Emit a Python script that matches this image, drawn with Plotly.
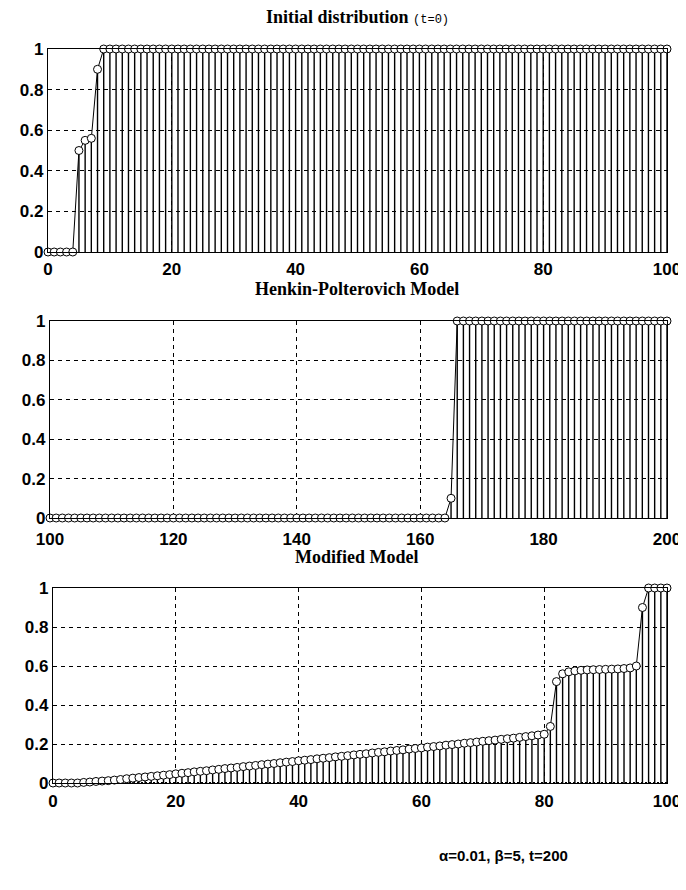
import plotly.graph_objects as go

# ---------------- data ----------------
x1 = list(range(0, 101))
y1 = [0, 0, 0, 0, 0, 0.5, 0.55, 0.56, 0.9] + [1] * 92

x2 = list(range(100, 201))
y2 = [0] * 65 + [0.1] + [1] * 35

x3 = list(range(0, 101))
y3 = [0, 0, 0, 0, 0, 0.003, 0.005, 0.008, 0.01, 0.012,
      0.015, 0.018, 0.022, 0.025, 0.028, 0.031, 0.034, 0.037, 0.04, 0.043,
      0.047, 0.05, 0.053, 0.057, 0.06, 0.063, 0.067, 0.07, 0.074, 0.077,
      0.08, 0.084, 0.087, 0.09, 0.094, 0.097, 0.1, 0.104, 0.107, 0.11,
      0.114, 0.117, 0.12, 0.124, 0.127, 0.13, 0.134, 0.137, 0.14, 0.144,
      0.147, 0.15, 0.154, 0.157, 0.16, 0.164, 0.167, 0.17, 0.174, 0.177,
      0.18, 0.184, 0.187, 0.19, 0.194, 0.197, 0.2, 0.204, 0.207, 0.21,
      0.214, 0.217, 0.22, 0.224, 0.227, 0.23, 0.234, 0.238, 0.242, 0.246,
      0.25, 0.29, 0.52, 0.56, 0.57, 0.575, 0.578, 0.58, 0.581, 0.582,
      0.583, 0.584, 0.585, 0.587, 0.59, 0.6, 0.9, 1, 1, 1, 1]

titles = ["Initial distribution", "Henkin-Polterovich Model", "Modified Model"]
subtitle1 = "(t=0)"
xticks1 = [0, 20, 40, 60, 80, 100]
xticks2 = [100, 120, 140, 160, 180, 200]
yticks = [0, 0.2, 0.4, 0.6, 0.8, 1]
ytick_text = ["0", "0.2", "0.4", "0.6", "0.8", "1"]
footnote = "α=0.01, β=5, t=200"

# ---------------- layout geometry ----------------
# page body has an 8px margin; work in page pixels and offset
OFF = 8
W, H = 686 - OFF, 890 - OFF


def px_x(v):
    return (v - OFF) / W


def px_y(v):
    return 1 - (v - OFF) / H


panels = [
    dict(x=x1, y=y1, xd=(48, 667), yd=(49, 252), xt=xticks1, xr=(0, 100), so=1),
    dict(x=x2, y=y2, xd=(50, 667), yd=(321, 518), xt=xticks2, xr=(100, 200), so=5),
    dict(x=x3, y=y3, xd=(53, 667), yd=(588, 783), xt=xticks1, xr=(0, 100), so=2),
]

fig = go.Figure()
tickfont = dict(family="Liberation Sans", size=17, color="black", weight="bold")

for i, p in enumerate(panels):
    n = i + 1
    xa = "x" if n == 1 else f"x{n}"
    ya = "y" if n == 1 else f"y{n}"
    # stems
    sx, sy = [], []
    for xv, yv in zip(p["x"], p["y"]):
        sx += [xv, xv, None]
        sy += [0, yv, None]
    fig.add_trace(go.Scatter(x=sx, y=sy, mode="lines", xaxis=xa, yaxis=ya,
                             line=dict(color="black", width=1.4),
                             hoverinfo="skip", showlegend=False, cliponaxis=False))
    if n == 3:
        fig.add_trace(go.Scatter(x=[p["xr"][0], p["xr"][1]], y=[0.0, 0.0], mode="lines",
                                 xaxis=xa, yaxis=ya,
                                 line=dict(color="black", width=2, dash="2px,2px"),
                                 showlegend=False, hoverinfo="skip", cliponaxis=False))
    # connecting line + open circles
    fig.add_trace(go.Scatter(x=p["x"], y=p["y"], mode="lines+markers", xaxis=xa, yaxis=ya,
                             line=dict(color="black", width=1),
                             marker=dict(symbol="circle", size=8, color="white",
                                         line=dict(color="black", width=1)),
                             showlegend=False, cliponaxis=False))
    common = dict(showgrid=True, gridcolor="black", gridwidth=1, griddash="4px,4px",
                  zeroline=False, showline=True, linecolor="black", linewidth=1.2,
                  mirror=True, ticks="", tickfont=tickfont, fixedrange=True,
                  automargin=False)
    fig.layout[("xaxis" if n == 1 else f"xaxis{n}")] = dict(
        domain=[px_x(p["xd"][0]), px_x(p["xd"][1])], range=list(p["xr"]),
        tickvals=p["xt"], ticktext=[str(v) for v in p["xt"]],
        anchor=ya, ticklabelstandoff=p["so"], **common)
    fig.layout[("yaxis" if n == 1 else f"yaxis{n}")] = dict(
        domain=[px_y(p["yd"][1]), px_y(p["yd"][0])], range=[0, 1],
        tickvals=yticks, ticktext=ytick_text, anchor=xa, **common)

annotations = [
    dict(text=f"<b>{titles[0]}</b> <span style='font-family:Liberation Mono;font-size:12px;font-weight:normal'>{subtitle1}</span>",
         x=px_x(357), y=px_y(17)),
    dict(text=f"<b>{titles[1]}</b>", x=px_x(357), y=px_y(289)),
    dict(text=f"<b>{titles[2]}</b>", x=px_x(357), y=px_y(557)),
]
for a in annotations:
    fig.add_annotation(xref="paper", yref="paper", showarrow=False, yanchor="middle",
                       xanchor="center", borderpad=0,
                       font=dict(family="Liberation Serif", size=18, color="black"), **a)
fig.add_annotation(text=f"<b>{footnote}</b>", xref="paper", yref="paper",
                   x=px_x(503), y=px_y(855), showarrow=False, xanchor="center",
                   yanchor="middle",
                   font=dict(family="Liberation Sans", size=15, color="black"))

fig.update_layout(width=W, height=H, margin=dict(l=0, r=0, t=0, b=0),
                  paper_bgcolor="white", plot_bgcolor="white")

fig.write_html("out.html")
